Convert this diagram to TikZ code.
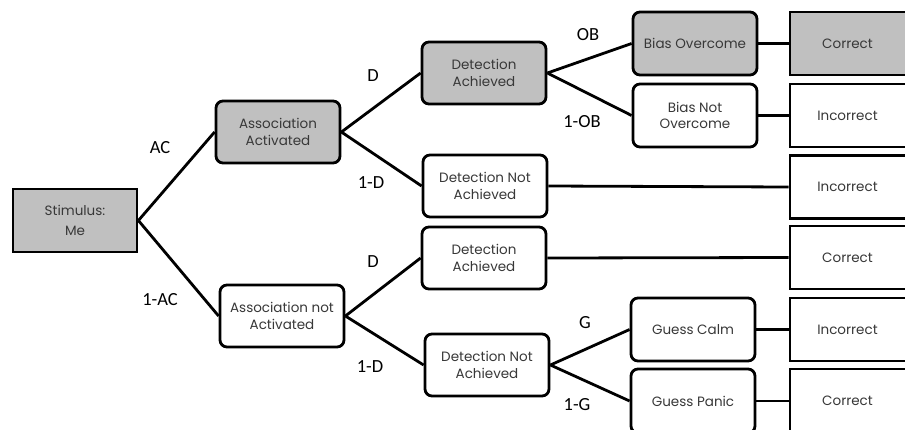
\documentclass[tikz,border=0pt]{standalone}
\usepackage{fontspec}
\setmainfont{Poppins}
\newfontfamily\labfont{Carlito}
\definecolor{boxgray}{HTML}{C0C0C0}
\definecolor{txt}{HTML}{383838}
\begin{document}
\begin{tikzpicture}[x=1pt,y=-1pt,
  base/.style={draw=black, line width=2.8pt, align=center, text=txt,
    font=\fontsize{13.5}{16.5}\selectfont, inner sep=0pt},
  rbox/.style={base, rounded corners=7pt, minimum width=124pt, minimum height=62pt},
  sbox/.style={base, minimum width=140pt, minimum height=63pt},
  gray/.style={fill=boxgray},
  white/.style={fill=white},
  conn/.style={line width=2.8pt},
  lab/.style={font=\labfont\fontsize{18.5}{20}\selectfont, text=black, inner sep=0pt}
]
\useasboundingbox (0,0) rectangle (905,429);
\clip (0,0) rectangle (905,429);
% nodes
\node[base, gray, minimum width=124pt, minimum height=63pt] (st) at (75,220.5) {Stimulus:\\[4pt]Me};
\node[rbox, gray] (aa) at (278,132) {Association\\Activated};
\node[rbox, white] (an) at (282,316) {Association not\\Activated};
\node[rbox, gray] (d1) at (484,73) {Detection\\Achieved};
\node[rbox, white] (d2) at (485,186) {Detection Not\\Achieved};
\node[rbox, white] (d3) at (484,258) {Detection\\Achieved};
\node[rbox, white] (d4) at (487,365) {Detection Not\\Achieved};
\node[rbox, gray, minimum height=63pt] (b1) at (695,43.5) {Bias Overcome};
\node[rbox, white, minimum height=63pt] (b2) at (695,115.5) {Bias Not\\Overcome};
\node[rbox, white, minimum height=63pt] (g1) at (693,329.5) {Guess Calm};
\node[rbox, white, minimum height=64pt] (g2) at (693,401) {Guess Panic};
% outcome boxes
\node[sbox, gray] (o1) at (860,43.5) {\hspace*{-25pt}Correct};
\node[sbox, white] (o2) at (860,115.5) {\hspace*{-25pt}Incorrect};
\node[sbox, white] (o3) at (860,187) {\hspace*{-25pt}Incorrect};
\node[sbox, white] (o4) at (860,257.5) {\hspace*{-25pt}Correct};
\node[sbox, white] (o5) at (860,329.5) {\hspace*{-25pt}Incorrect};
\node[sbox, white, minimum height=64pt] (o6) at (860,401) {\hspace*{-25pt}Correct};
% connectors
\draw[conn] (st.east) -- (aa.west);
\draw[conn] (st.east) -- (an.west);
\draw[conn] (aa.east) -- (d1.west);
\draw[conn] (aa.east) -- (d2.west);
\draw[conn] (an.east) -- (d3.west);
\draw[conn] (an.east) -- (d4.west);
\draw[conn] (d1.east) -- (b1.west);
\draw[conn] (d1.east) -- (b2.west);
\draw[conn] (d4.east) -- (g1.west);
\draw[conn] (d4.east) -- (g2.west);
\draw[conn] (b1.east) -- (o1.west);
\draw[conn] (b2.east) -- (o2.west);
\draw[conn] (d2.east) -- (o3.west);
\draw[conn] (d3.east) -- (o4.west);
\draw[conn] (g1.east) -- (o5.west);
\draw[conn] (g2.east) -- (o6.west);
% labels
\node[lab] (lac) at (160,148) {AC};
\node[lab] (lnac) at (160,300) {1-AC};
\node[lab] (ld1) at (373,76) {D};
\node[lab] (lnd1) at (371,183) {1-D};
\node[lab] (ld2) at (373,262) {D};
\node[lab] (lnd2) at (370,367) {1-D};
\node[lab] (lob) at (588,35) {OB};
\node[lab] (lnob) at (582,122) {1-OB};
\node[lab] (lg) at (585,323) {G};
\node[lab] (lng) at (577,405) {1-G};
\end{tikzpicture}
\end{document}
